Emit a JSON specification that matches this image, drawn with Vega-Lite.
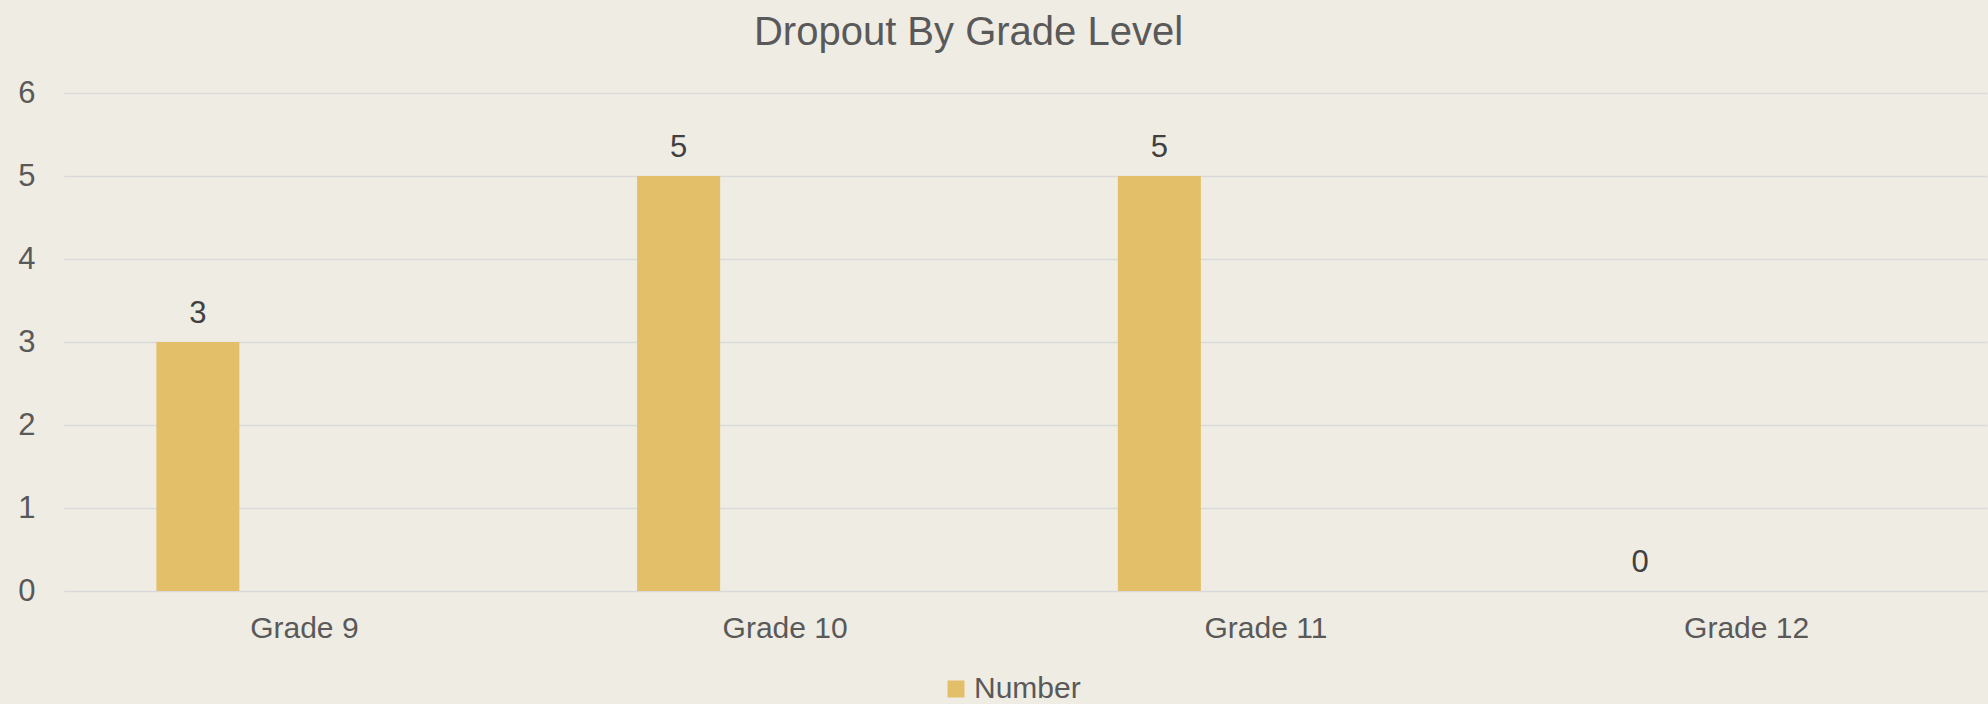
{
  "$schema": "https://vega.github.io/schema/vega-lite/v6.json",
  "autosize": {"type": "none"},
  "width": 1923,
  "height": 498,
  "padding": {"left": 64, "top": 93, "right": 1, "bottom": 113},
  "background": "#EFECE4",
  "title": {
    "text": "Dropout By Grade Level",
    "font": "Liberation Sans",
    "fontSize": 40,
    "fontWeight": "normal",
    "color": "#595959",
    "anchor": "middle",
    "dx": -57,
    "offset": 24
  },
  "data": {
    "values": [
      {"grade": "Grade 9", "value": 3, "series": "Number"},
      {"grade": "Grade 10", "value": 5, "series": "Number"},
      {"grade": "Grade 11", "value": 5, "series": "Number"},
      {"grade": "Grade 12", "value": 0, "series": "Number"}
    ]
  },
  "config": {
    "view": {"stroke": null},
    "font": "Liberation Sans"
  },
  "encoding": {
    "x": {
      "field": "grade",
      "type": "nominal",
      "sort": null,
      "scale": {"paddingInner": 0, "paddingOuter": 0},
      "axis": {
        "title": null,
        "labelAngle": 0,
        "labelFontSize": 30,
        "labelColor": "#595959",
        "labelPadding": 22,
        "ticks": false,
        "domain": false,
        "grid": false
      }
    },
    "y": {
      "field": "value",
      "type": "quantitative",
      "scale": {"domain": [0, 6]},
      "axis": {
        "title": null,
        "tickCount": 6,
        "labelFontSize": 31,
        "labelColor": "#595959",
        "labelPadding": 29,
        "ticks": false,
        "domain": false,
        "grid": true,
        "gridColor": "#D9D9D9",
        "gridWidth": 1.5
      }
    }
  },
  "layer": [
    {
      "mark": {"type": "bar", "width": 83, "xOffset": -106.5},
      "encoding": {
        "color": {
          "field": "series",
          "type": "nominal",
          "scale": {"range": ["#E4BF6A"]},
          "legend": {
            "title": null,
            "orient": "none",
            "legendX": 877,
            "legendY": 581,
            "symbolType": "square",
            "symbolSize": 289,
            "symbolStrokeWidth": 0,
            "labelFontSize": 30,
            "labelColor": "#595959",
            "labelOffset": 3
          }
        }
      }
    },
    {
      "mark": {
        "type": "text",
        "xOffset": -106.5,
        "dy": -19,
        "baseline": "alphabetic",
        "fontSize": 31,
        "color": "#404040"
      },
      "encoding": {"text": {"field": "value", "type": "quantitative"}}
    }
  ]
}
